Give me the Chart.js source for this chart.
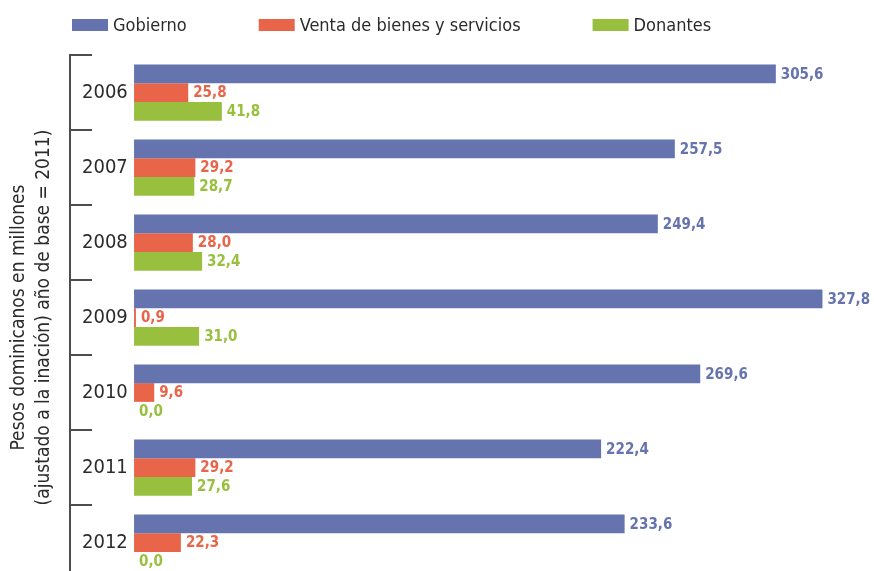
<!DOCTYPE html>
<html><head><meta charset="utf-8">
<script src="https://cdn.jsdelivr.net/npm/chart.js@4/dist/chart.umd.min.js"></script>
<style>html,body{margin:0;padding:0;background:#fff;overflow:hidden}</style>
</head>
<body>
<canvas id="c" width="874" height="582"></canvas>
<script>
const categories = ['2006', '2007', '2008', '2009', '2010', '2011', '2012'];
const gobierno = [305.6, 257.5, 249.4, 327.8, 269.6, 222.4, 233.6];
const venta = [25.8, 29.2, 28.0, 0.9, 9.6, 29.2, 22.3];
const donantes = [41.8, 28.7, 32.4, 31.0, 0.0, 27.6, 0.0];
const seriesNames = ['Gobierno', 'Venta de bienes y servicios', 'Donantes'];
const axisTitle = ['Pesos dominicanos en millones', '(ajustado a la inación) año de base = 2011)'];

const COLORS = ['#6573AE', '#E8654A', '#98C03E'];
const FONT = '"Liberation Sans Narrow", "DejaVu Sans Condensed", "Roboto", sans-serif';
const AXIS_COLOR = '#4d4d4d';
const TEXT_COLOR = '#2b2b2b';

const legendPlugin = {
  id: 'customLegend',
  afterDraw(chart) {
    const ctx = chart.ctx;
    ctx.save();
    ctx.font = '18px ' + FONT;
    ctx.textBaseline = 'middle';
    ctx.textAlign = 'left';
    let x = 72;
    const yc = 25;
    chart.data.datasets.forEach((ds) => {
      ctx.fillStyle = ds.backgroundColor;
      ctx.fillRect(x, yc - 6, 36, 12);
      x += 36 + 5;
      ctx.fillStyle = TEXT_COLOR;
      ctx.fillText(ds.label, x, yc + 1);
      x += ctx.measureText(ds.label).width + 72;
    });
    ctx.restore();
  }
};

const tickPlugin = {
  id: 'catTicks',
  afterDraw(chart) {
    const y = chart.scales.y;
    const ctx = chart.ctx;
    ctx.save();
    ctx.strokeStyle = AXIS_COLOR;
    ctx.lineWidth = 2;
    const x0 = y.right;
    for (let i = 0; i <= categories.length; i++) {
      const py = Math.round(y.getPixelForValue(i - 0.5));
      ctx.beginPath();
      ctx.moveTo(x0 - 1, py);
      ctx.lineTo(x0 + 22, py);
      ctx.stroke();
    }
    ctx.restore();
  }
};

const valueLabels = {
  id: 'valueLabels',
  afterDatasetsDraw(chart) {
    const ctx = chart.ctx;
    ctx.save();
    ctx.font = 'bold 15px ' + FONT;
    ctx.textBaseline = 'middle';
    ctx.textAlign = 'left';
    chart.data.datasets.forEach((ds, i) => {
      const meta = chart.getDatasetMeta(i);
      ctx.fillStyle = ds.backgroundColor;
      meta.data.forEach((el, j) => {
        const v = ds.data[j];
        ctx.fillText(v.toFixed(1).replace('.', ','), el.x + 5, el.y + 1);
      });
    });
    ctx.restore();
  }
};

new Chart(document.getElementById('c'), {
  type: 'bar',
  data: {
    labels: categories,
    datasets: [
      { label: seriesNames[0], data: gobierno, backgroundColor: COLORS[0] },
      { label: seriesNames[1], data: venta, backgroundColor: COLORS[1] },
      { label: seriesNames[2], data: donantes, backgroundColor: COLORS[2] }
    ]
  },
  options: {
    indexAxis: 'y',
    responsive: false,
    animation: false,
    layout: { padding: { top: 55, right: 40, bottom: 2, left: 0 } },
    datasets: { bar: { categoryPercentage: 0.75, barPercentage: 1.0 } },
    plugins: { legend: { display: false }, tooltip: { enabled: false } },
    scales: {
      x: { display: false, min: -30.5, max: 333.3 },
      y: {
        position: 'left',
        afterFit: (s) => { s.width = 70; s.paddingTop = 0; s.paddingBottom = 0; },
        grid: { display: false, drawTicks: false },
        border: { display: true, color: AXIS_COLOR, width: 2 },
        ticks: {
          mirror: true,
          crossAlign: 'near',
          padding: 12,
          color: TEXT_COLOR,
          font: { family: FONT, size: 20 }
        },
        title: {
          display: true,
          text: axisTitle,
          color: TEXT_COLOR,
          font: { family: FONT, size: 19, lineHeight: '25px' },
          padding: { top: 7, bottom: 0 }
        }
      }
    }
  },
  plugins: [legendPlugin, tickPlugin, valueLabels]
});
</script>
</body></html>
